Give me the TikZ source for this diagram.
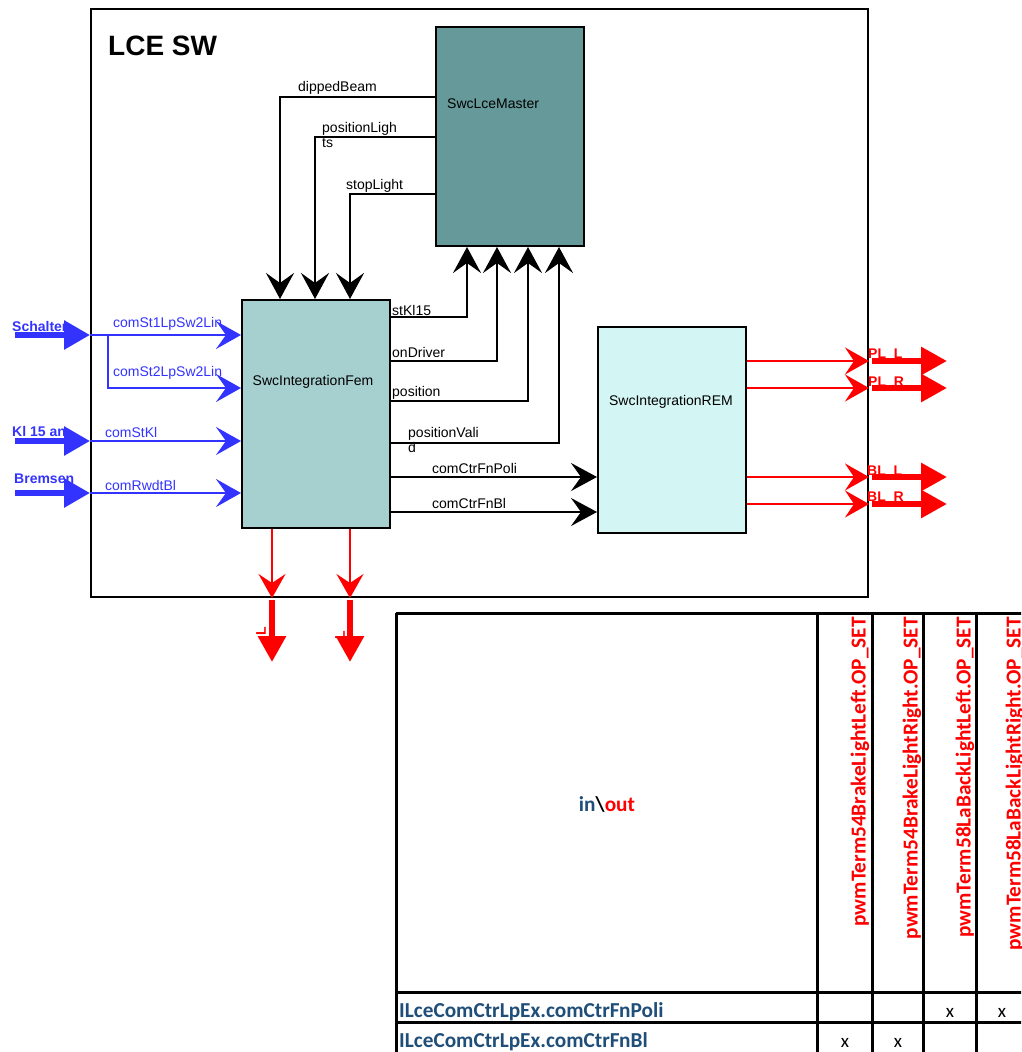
\documentclass[tikz,border=0pt]{standalone}
\usepackage{fontspec}
\setmainfont{Liberation Sans}
\newfontfamily\tabfont{Carlito}
\usepackage{xcolor}
\definecolor{mastercolor}{HTML}{669999}
\definecolor{femcolor}{HTML}{A6CFCF}
\definecolor{remcolor}{HTML}{D3F5F4}
\definecolor{incolor}{HTML}{3333FF}
\definecolor{outcolor}{HTML}{FF0000}
\definecolor{tabblue}{HTML}{1F4E79}
\usetikzlibrary{positioning,arrows.meta,calc}
\tikzset{
    lcebox/.style={
        rectangle,
        draw=black,
        line width=2pt,
        inner sep=0pt,
    },
    swcblock/.style={
        rectangle,
        draw=black,
        line width=2pt,
        inner sep=0pt,
        minimum width=148pt,
    },
    lbl/.style={
        inner sep=0pt,
        anchor=base west,
        font=\fontsize{14}{15}\selectfont,
    },
    inlbl/.style={
        lbl,
        text=incolor,
    },
    portlbl/.style={
        lbl,
        font=\fontsize{14}{15}\selectfont\bfseries,
    },
    sig/.style={
        -{Stealth[length=26pt,width=28pt,inset=10pt]},
        line width=2.2pt,
        black,
    },
    ifin/.style={
        -{Stealth[length=25pt,width=28pt,inset=10pt]},
        line width=2.2pt,
        incolor,
    },
    portin/.style={
        -{Triangle[length=26pt,width=28pt]},
        line width=6pt,
        incolor,
    },
    ifout/.style={
        -{Stealth[length=24pt,width=27pt,inset=9pt]},
        line width=2.4pt,
        outcolor,
    },
    portout/.style={
        -{Triangle[length=26pt,width=27pt]},
        line width=6pt,
        outcolor,
    },
    tabline/.style={
        line width=3pt,
        black,
    },
    tabtxt/.style={
        inner sep=0pt,
        font=\fontsize{21.3}{23}\selectfont\tabfont\bfseries,
    },
    tabmark/.style={
        inner sep=0pt,
        anchor=base,
        font=\fontsize{19}{21}\selectfont\tabfont,
    },
}

\begin{document}
\begin{tikzpicture}[x=1pt,y=-1pt]
    \useasboundingbox (0,0) rectangle (1021,1052);
    \clip (0,0) rectangle (1021,1052);

    % LCE SW frame
    \node[lcebox, anchor=north west, minimum width=777pt, minimum height=588pt] (lce) at (90,8) {};
    \node[lbl, font=\fontsize{28}{30}\selectfont\bfseries] (lcetitle) at (108,55) {LCE SW};

    % software components
    \node[swcblock, fill=mastercolor, minimum height=219pt, anchor=north west] (master) at (435,26) {};
    \node[swcblock, fill=femcolor, minimum height=228pt, anchor=north west] (fem) at (241,299) {};
    \node[swcblock, fill=remcolor, minimum height=206pt, anchor=north west] (rem) at (597,326) {};
    \node[lbl] (masterlbl) at (447,108) {SwcLceMaster};
    \node[lbl, anchor=base] (femlbl) at (313,385) {SwcIntegrationFem};
    \node[lbl, anchor=base] (remlbl) at (671,405) {SwcIntegrationREM};

    % master -> fem
    \draw[sig] (master.west |- 0,97) -| (fem.north -| 280,0);
    \draw[sig] (master.west |- 0,137) -| (fem.north -| 315,0);
    \draw[sig] (master.west |- 0,194) -| (fem.north -| 350,0);
    \node[lbl] (dbeam) at (298,91) {dippedBeam};
    \node[lbl, anchor=north west, align=left] (poslights) at (322,122) {positionLigh\\ts};
    \node[lbl] (stoplight) at (346,189) {stopLight};

    % fem -> master
    \draw[sig] (fem.east |- 0,317) -| (master.south -| 467,0);
    \draw[sig] (fem.east |- 0,361) -| (master.south -| 497,0);
    \draw[sig] (fem.east |- 0,401) -| (master.south -| 528,0);
    \draw[sig] (fem.east |- 0,443) -| (master.south -| 559,0);
    \node[lbl] (stkl) at (392,315) {stKl15};
    \node[lbl] (ondriver) at (392,357) {onDriver};
    \node[lbl] (position) at (392,396) {position};
    \node[lbl, anchor=north west, align=left, font=\fontsize{14}{15}\selectfont] (posvalid) at (408,427) {positionVali\\d};

    % fem -> rem
    \draw[sig] (fem.east |- 0,477) -- (rem.west |- 0,477);
    \draw[sig] (fem.east |- 0,512) -- (rem.west |- 0,512);
    \node[lbl] (ctrpoli) at (432,473) {comCtrFnPoli};
    \node[lbl] (ctrbl) at (432,508) {comCtrFnBl};

    % inputs
    \coordinate (schalter) at (15,335);
    \coordinate (kl15) at (15,441);
    \coordinate (bremsen) at (15,493);
    \coordinate (sw2split) at (108,335);
    \draw[portin] (schalter) -- (lce.west |- schalter);
    \draw[portin] (kl15) -- (lce.west |- kl15);
    \draw[portin] (bremsen) -- (lce.west |- bremsen);
    \draw[ifin] (lce.west |- schalter) -- (fem.west |- schalter);
    \draw[ifin] (sw2split) |- (fem.west |- 0,388);
    \draw[ifin] (lce.west |- kl15) -- (fem.west |- kl15);
    \draw[ifin] (lce.west |- bremsen) -- (fem.west |- bremsen);
    \node[portlbl, text=incolor] (schalterlbl) at (12,331) {Schalter};
    \node[portlbl, text=incolor] (kl15lbl) at (12,436) {Kl 15 an};
    \node[portlbl, text=incolor] (bremsenlbl) at (14,483) {Bremsen};
    \node[inlbl] (st1lbl) at (113,327) {comSt1LpSw2Lin};
    \node[inlbl] (st2lbl) at (113,376) {comSt2LpSw2Lin};
    \node[inlbl] (stkllbl) at (105,437) {comStKl};
    \node[inlbl] (rwdtlbl) at (105,490) {comRwdtBl};

    % outputs of rem
    \coordinate (pll) at (947,361);
    \coordinate (plr) at (947,388);
    \coordinate (bll) at (947,477);
    \coordinate (blr) at (947,504);
    \draw[ifout] (rem.east |- pll) -- (lce.east |- pll);
    \draw[ifout] (rem.east |- plr) -- (lce.east |- plr);
    \draw[ifout] (rem.east |- bll) -- (lce.east |- bll);
    \draw[ifout] (rem.east |- blr) -- (lce.east |- blr);
    \draw[portout] ([xshift=3pt]lce.east |- pll) -- (pll);
    \draw[portout] ([xshift=3pt]lce.east |- plr) -- (plr);
    \draw[portout] ([xshift=3pt]lce.east |- bll) -- (bll);
    \draw[portout] ([xshift=3pt]lce.east |- blr) -- (blr);
    \node[portlbl, text=outcolor] (pllbl) at (868,358) {PL\_L};
    \node[portlbl, text=outcolor] (plrlbl) at (868,386) {PL\_R};
    \node[portlbl, text=outcolor] (blllbl) at (867,475) {BL\_L};
    \node[portlbl, text=outcolor] (blrlbl) at (867,501) {BL\_R};

    % outputs of fem
    \coordinate (femout1) at (272,662);
    \coordinate (femout2) at (350,662);
    \draw[ifout] (fem.south -| femout1) -- (lce.south -| femout1);
    \draw[ifout] (fem.south -| femout2) -- (lce.south -| femout2);
    \draw[portout] ([yshift=-2pt]lce.south -| femout1) -- (femout1);
    \draw[portout] ([yshift=-2pt]lce.south -| femout2) -- (femout2);
    \node[portlbl, anchor=center, rotate=90, text=outcolor] (femout1lbl) at (261,631) {L};
    \node[portlbl, anchor=center, rotate=90, text=outcolor] (femout2lbl) at (340,635) {L};

    % in/out table
    \draw[tabline] (396,613) -- (1030,613);
    \draw[tabline] (396,992) -- (1030,992);
    \draw[tabline] (396,1022) -- (1030,1022);
    \draw[tabline] (396,613) -- (396,1060);
    \draw[tabline] (817,613) -- (817,1060);
    \draw[tabline] (872,613) -- (872,1060);
    \draw[tabline] (923,613) -- (923,1060);
    \draw[tabline] (976,613) -- (976,1060);
    \draw[tabline] (1028,613) -- (1028,1060);
    \node[tabtxt, anchor=base] (inout) at (607,811)
        {\textcolor{tabblue}{in}\textbackslash\textcolor{outcolor}{out}};
    \node[tabtxt, text=outcolor, rotate=90, anchor=east] (col1) at (860,617) {pwmTerm54BrakeLightLeft.OP\_SET};
    \node[tabtxt, text=outcolor, rotate=90, anchor=east] (col2) at (912,617) {pwmTerm54BrakeLightRight.OP\_SET};
    \node[tabtxt, text=outcolor, rotate=90, anchor=east] (col3) at (965,617) {pwmTerm58LaBackLightLeft.OP\_SET};
    \node[tabtxt, text=outcolor, rotate=90, anchor=east] (col4) at (1015,617) {pwmTerm58LaBackLightRight.OP\_SET};
    \node[tabtxt, text=tabblue, anchor=base west] (rowpoli) at (399,1017) {ILceComCtrLpEx.comCtrFnPoli};
    \node[tabtxt, text=tabblue, anchor=base west] (rowbl) at (399,1047) {ILceComCtrLpEx.comCtrFnBl};
    \node[tabmark] (x13) at (950,1017) {x};
    \node[tabmark] (x14) at (1002,1017) {x};
    \node[tabmark] (x21) at (845,1047) {x};
    \node[tabmark] (x22) at (898,1047) {x};
\end{tikzpicture}
\end{document}
